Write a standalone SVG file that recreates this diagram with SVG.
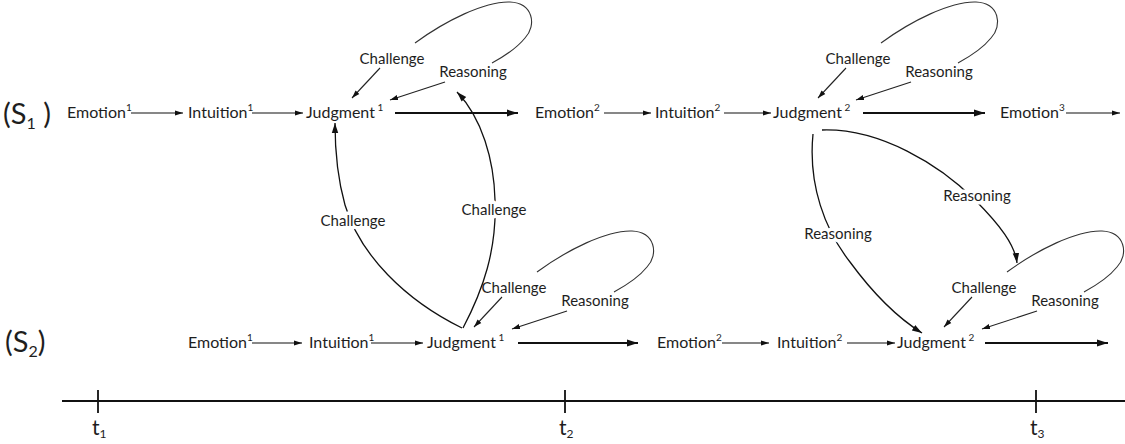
<svg xmlns="http://www.w3.org/2000/svg" width="1125" height="444" viewBox="0 0 1125 444">
<style>
text{font-family:Lato,"Open Sans","DejaVu Sans",sans-serif;fill:#1e1e1e}
.n{font-size:16px}
.sup{font-size:10px}
.lab{font-size:15px}
.halo{paint-order:stroke;stroke:#fff;stroke-width:7px;stroke-linejoin:round}
.big{font-size:29px}
.sub{font-size:16px}
.t{font-size:21px}
.tsub{font-size:12px}
.sa{stroke:#111;stroke-width:1.2;fill:none;marker-end:url(#ahs)}
.la{stroke:#111;stroke-width:1.8;fill:none;marker-end:url(#ahl)}
.cv{stroke:#111;stroke-width:1.3;fill:none;marker-end:url(#ahm)}
.lp{stroke:#333;stroke-width:1.1;fill:none}
.la2{stroke:#222;stroke-width:1.1;fill:none;marker-end:url(#ahs)}
.axis{stroke:#111;stroke-width:1.8;fill:none}
</style>
<defs>
<marker id="ahs" markerUnits="userSpaceOnUse" markerWidth="9" markerHeight="8" refX="8" refY="4" orient="auto"><path d="M0,1.4 L8,4 L0,6.6 z" fill="#111"/></marker>
<marker id="ahm" markerUnits="userSpaceOnUse" markerWidth="11" markerHeight="10" refX="10" refY="5" orient="auto"><path d="M0,1.8 L10,5 L0,8.2 z" fill="#111"/></marker>
<marker id="ahl" markerUnits="userSpaceOnUse" markerWidth="12" markerHeight="10" refX="11" refY="5" orient="auto"><path d="M0,1.6 L11,5 L0,8.4 z" fill="#111"/></marker>
<g id="loopshape">
<path class="la2" d="M75,-45 L47,-15"/>
<path class="lp" d="M110,-70 C140,-92 180,-112 205,-111 C228,-110 232,-88 220,-75 C212,-65 198,-56 187,-50"/>
<path class="la2" d="M140,-31 L85,-13"/>
<text class="lab" x="87" y="-49" text-anchor="middle">Challenge</text>
<text class="lab" x="168" y="-36" text-anchor="middle">Reasoning</text>
</g>
</defs>

<g id="connectors">
<!-- S1 row arrows -->
<path class="sa" d="M131,113 H183"/>
<path class="sa" d="M252,113 H303"/>
<path class="la" d="M395,113 H518"/>
<path class="sa" d="M604,113 H651"/>
<path class="sa" d="M724,113 H771"/>
<path class="la" d="M863,113 H985"/>
<path class="sa" d="M1066,113 H1120"/>
<!-- S2 row arrows -->
<path class="sa" d="M252,343 H302"/>
<path class="sa" d="M371,343 H423"/>
<path class="la" d="M518,343 H638"/>
<path class="sa" d="M722,343 H769"/>
<path class="sa" d="M847,343 H895"/>
<path class="la" d="M985,343 H1108"/>
<!-- self loops -->
<use href="#loopshape" transform="translate(305,113)"/>
<use href="#loopshape" transform="translate(771,113)"/>
<use href="#loopshape" transform="translate(427,342)"/>
<use href="#loopshape" transform="translate(897,342)"/>
<!-- cross-agent curves -->
<path class="cv" d="M462,328 C405,300 360,255 345,205 C338,180 335,150 335,123"/>
<path class="cv" d="M463,328 C483,290 497,250 495,200 C494,160 482,118 457,92"/>
<path class="cv" d="M813,134 C808,185 825,230 850,262 C872,292 898,318 922,333"/>
<path class="cv" d="M822,130 C880,128 940,165 975,200 C1000,225 1015,245 1017,263"/>
<text class="lab halo" x="353" y="226" text-anchor="middle">Challenge</text>
<text class="lab halo" x="494" y="215" text-anchor="middle">Challenge</text>
<text class="lab halo" x="838" y="239" text-anchor="middle">Reasoning</text>
<text class="lab halo" x="977" y="201" text-anchor="middle">Reasoning</text>
</g>

<g id="s1-label"><text class="big" x="3" y="124">(S<tspan class="sub" dy="5">1</tspan><tspan dy="-5"> )</tspan></text></g>
<g id="s1-emotion1"><text class="n" x="67" y="118">Emotion<tspan class="sup" dy="-7">1</tspan></text></g>
<g id="s1-intuition1"><text class="n" x="188" y="118">Intuition<tspan class="sup" dy="-7">1</tspan></text></g>
<g id="s1-judgment1"><text class="n" x="306" y="118">Judgment<tspan class="sup" dy="-7"> 1</tspan></text></g>
<g id="s1-emotion2"><text class="n" x="535" y="118">Emotion<tspan class="sup" dy="-7">2</tspan></text></g>
<g id="s1-intuition2"><text class="n" x="655" y="118">Intuition<tspan class="sup" dy="-7">2</tspan></text></g>
<g id="s1-judgment2"><text class="n" x="773" y="118">Judgment<tspan class="sup" dy="-7"> 2</tspan></text></g>
<g id="s1-emotion3"><text class="n" x="1000" y="118">Emotion<tspan class="sup" dy="-7">3</tspan></text></g>

<g id="s2-label"><text class="big" x="5" y="352">(S<tspan class="sub" dy="5">2</tspan><tspan dy="-5">)</tspan></text></g>
<g id="s2-emotion1"><text class="n" x="188" y="348">Emotion<tspan class="sup" dy="-7">1</tspan></text></g>
<g id="s2-intuition1"><text class="n" x="309" y="348">Intuition<tspan class="sup" dy="-7">1</tspan></text></g>
<g id="s2-judgment1"><text class="n" x="427" y="348">Judgment<tspan class="sup" dy="-7"> 1</tspan></text></g>
<g id="s2-emotion2"><text class="n" x="657" y="348">Emotion<tspan class="sup" dy="-7">2</tspan></text></g>
<g id="s2-intuition2"><text class="n" x="777" y="348">Intuition<tspan class="sup" dy="-7">2</tspan></text></g>
<g id="s2-judgment2"><text class="n" x="897" y="348">Judgment<tspan class="sup" dy="-7"> 2</tspan></text></g>

<g id="timeline">
<path class="axis" d="M62,401 H1125 M98,390 V413 M565,390 V413 M1036,390 V413"/>
<text class="t" x="92" y="435">t<tspan class="tsub" dy="3">1</tspan></text>
<text class="t" x="559" y="435">t<tspan class="tsub" dy="3">2</tspan></text>
<text class="t" x="1030" y="435">t<tspan class="tsub" dy="3">3</tspan></text>
</g>
</svg>
